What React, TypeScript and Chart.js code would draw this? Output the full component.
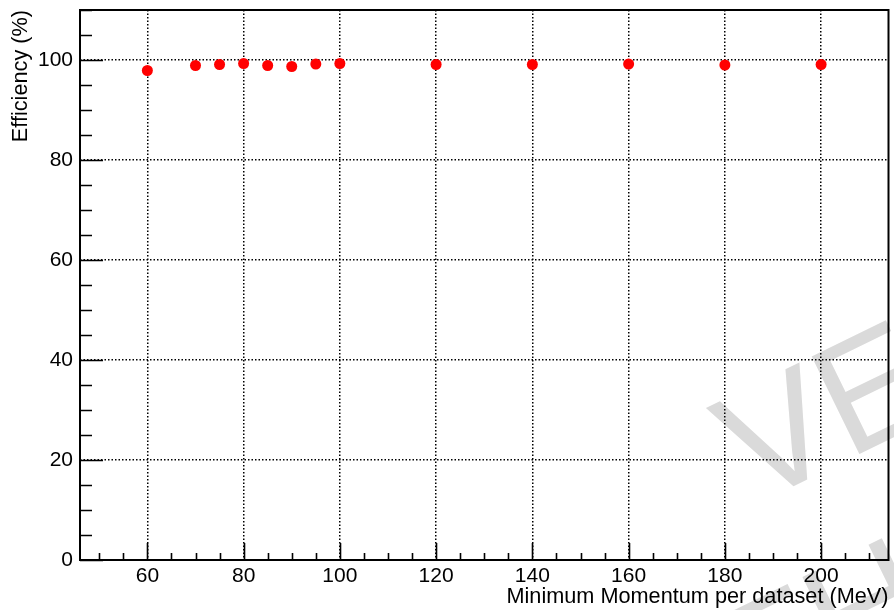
import React, { useEffect, useRef } from "react";
import { Chart, registerables } from "chart.js";

Chart.register(...registerables);

// ---- data ----
const MOMENTUM = [60, 70, 75, 80, 85, 90, 95, 100, 120, 140, 160, 180, 200];
const EFFICIENCY = [97.9, 98.9, 99.1, 99.3, 98.9, 98.7, 99.2, 99.3, 99.1, 99.1, 99.2, 99.0, 99.1];
const X_TICKS = [60, 80, 100, 120, 140, 160, 180, 200];
const Y_TICKS = [0, 20, 40, 60, 80, 100];
const X_RANGE = [46, 214];
const Y_RANGE = [0, 110];
const MINOR_STEP = 5;
const X_TITLE = "Minimum Momentum per dataset (MeV)";
const Y_TITLE = "Efficiency (%)";
const WATERMARK_LINES = ["VERSION", "TH"];

const FONT_FAMILY = '"Liberation Sans", Arial, Helvetica, sans-serif';

const rootStyle = {
  id: "rootStyle",
  beforeDraw(chart: any) {
    const { ctx, width, height } = chart;
    ctx.save();
    ctx.fillStyle = "#ffffff";
    ctx.fillRect(0, 0, width, height);
    // watermark
    ctx.translate(753, 506);
    ctx.rotate((-26 * Math.PI) / 180);
    ctx.font = `158px ${FONT_FAMILY}`;
    ctx.fillStyle = "#dadada";
    ctx.textBaseline = "alphabetic";
    ctx.textAlign = "left";
    ctx.fillText(WATERMARK_LINES[0], 0, 0);
    ctx.fillText(WATERMARK_LINES[1], -96, 194);
    ctx.restore();
  },
  beforeDatasetsDraw(chart: any) {
    const { ctx, chartArea } = chart;
    const xs = chart.scales.x;
    const ys = chart.scales.y;
    const { left, right, top, bottom } = chartArea;
    ctx.save();
    ctx.strokeStyle = "#000";
    ctx.lineWidth = 2;
    ctx.setLineDash([]);
    // frame
    ctx.strokeRect(left, top, right - left, bottom - top);
    // ticks
    ctx.lineWidth = 1.6;
    ctx.beginPath();
    for (let v = Math.ceil(X_RANGE[0] / MINOR_STEP) * MINOR_STEP; v <= X_RANGE[1]; v += MINOR_STEP) {
      const px = Math.round(xs.getPixelForValue(v)) + 0.5;
      const len = X_TICKS.includes(v) ? 17 : 7;
      ctx.moveTo(px, bottom);
      ctx.lineTo(px, bottom - len);
    }
    for (let v = Math.ceil(Y_RANGE[0] / MINOR_STEP) * MINOR_STEP; v <= Y_RANGE[1]; v += MINOR_STEP) {
      const py = Math.round(ys.getPixelForValue(v)) + 0.5;
      const len = Y_TICKS.includes(v) ? 23 : 12;
      ctx.moveTo(left, py);
      ctx.lineTo(left + len, py);
    }
    ctx.stroke();
    ctx.restore();
  },
};

export default function App() {
  const canvasRef = useRef<HTMLCanvasElement | null>(null);

  useEffect(() => {
    document.body.style.margin = "0";
    const canvas = canvasRef.current;
    if (!canvas) return;
    const tickFont = { family: FONT_FAMILY, size: 21 };
    const titleFont = { family: FONT_FAMILY, size: 21.7 };
    const chart = new Chart(canvas, {
      type: "scatter",
      data: {
        datasets: [
          {
            label: "Efficiency",
            data: MOMENTUM.map((x, i) => ({ x, y: EFFICIENCY[i] })),
            backgroundColor: "#ff0000",
            borderColor: "#ff0000",
            borderWidth: 0,
            pointRadius: 5.5,
            pointHoverRadius: 5.5,
            showLine: false,
          },
        ],
      },
      options: {
        responsive: false,
        animation: false,
        events: [],
        layout: { padding: { top: 10, right: 2, left: 0, bottom: 0 } },
        plugins: {
          legend: { display: false },
          tooltip: { enabled: false },
        },
        scales: {
          x: {
            type: "linear",
            min: X_RANGE[0],
            max: X_RANGE[1],
            afterBuildTicks: (s: any) => {
              s.ticks = X_TICKS.map((value) => ({ value }));
            },
            afterFit: (s: any) => {
              s.height = 50;
              s.paddingLeft = 0;
              s.paddingRight = 0;
              s.paddingTop = 0;
              s.paddingBottom = 0;
            },
            grid: { display: true, drawOnChartArea: true, drawTicks: false, color: "#000", lineWidth: 1.5 },
            border: { display: false, dash: [1.5, 2] },
            ticks: { font: tickFont, color: "#000", padding: 4, maxRotation: 0 },
            title: { display: true, text: X_TITLE, align: "end", font: titleFont, color: "#000", padding: 0 },
          },
          y: {
            type: "linear",
            min: Y_RANGE[0],
            max: Y_RANGE[1],
            afterBuildTicks: (s: any) => {
              s.ticks = Y_TICKS.map((value) => ({ value }));
            },
            afterFit: (s: any) => {
              s.width = 80;
              s.paddingLeft = 0;
              s.paddingRight = 0;
              s.paddingTop = 0;
              s.paddingBottom = 0;
            },
            grid: { display: true, drawOnChartArea: true, drawTicks: false, color: "#000", lineWidth: 1.5 },
            border: { display: false, dash: [1.5, 2] },
            ticks: { font: tickFont, color: "#000", padding: 7 },
            title: { display: true, text: Y_TITLE, align: "end", font: titleFont, color: "#000", padding: { top: 8, bottom: 0 } },
          },
        },
      },
      plugins: [rootStyle],
    } as any);
    return () => chart.destroy();
  }, []);

  return (
    <div style={{ width: 894, height: 610 }}>
      <canvas ref={canvasRef} width={894} height={610} style={{ display: "block" }} />
    </div>
  );
}
